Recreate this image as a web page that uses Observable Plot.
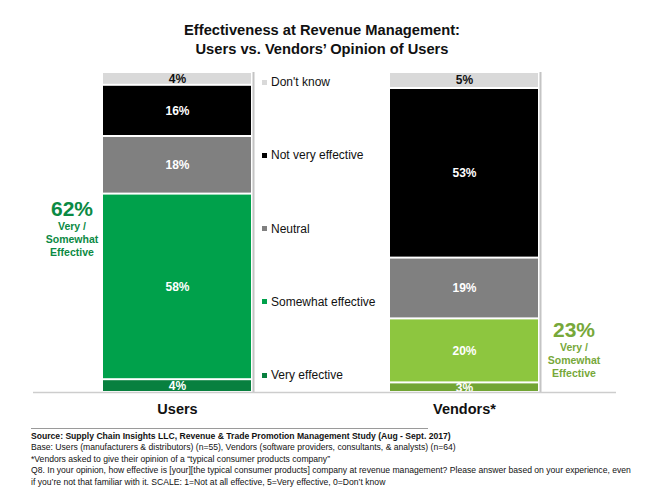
<!DOCTYPE html>
<html>
<head>
<meta charset="utf-8">
<script src="https://cdn.jsdelivr.net/npm/d3@7"></script>
<script src="https://cdn.jsdelivr.net/npm/@observablehq/plot@0.6"></script>
<style>
  html, body { margin: 0; padding: 0; background: #fff; }
  #wrap { position: relative; width: 650px; height: 488px; font-family: "Liberation Sans", Arial, sans-serif; overflow: hidden; }
  #title { position: absolute; left: 0; width: 644px; top: 21px; text-align: center; font-weight: bold; font-size: 14.7px; line-height: 19px; color: #111; }
  #chart { position: absolute; left: 0; top: 60px; }
  #legend { position: absolute; left: 262px; top: 75px; height: 307px; display: flex; flex-direction: column; justify-content: space-between; font-size: 12px; color: #111; }
  #legend .item { display: flex; align-items: center; }
  #legend .sw { width: 5px; height: 5px; margin-right: 4px; }
  .annot { position: absolute; text-align: center; font-weight: bold; }
  .annot .big { font-size: 21px; line-height: 22px; }
  .annot .small { font-size: 10.5px; line-height: 13px; }
  #caption { position: absolute; left: 31px; top: 428px; width: 610px; font-size: 8.6px; line-height: 11.4px; color: #111; }
  #caption .rule { width: 397px; border-top: 1.5px solid #9a9a9a; margin-bottom: 2px; }
</style>
</head>
<body>
<div id="wrap">
  <div id="title">Effectiveness at Revenue Management:<br>Users vs. Vendors’ Opinion of Users</div>
  <div id="chart"></div>
  <div id="legend"></div>
  <div class="annot" id="a1" style="left:32px; top:198px; width:80px; color:#0b8a44;"></div>
  <div class="annot" id="a2" style="left:534px; top:319px; width:80px; color:#77a83a;"></div>
  <div id="caption"></div>
</div>
<script>
// ---- data ----
const groups = ["Users", "Vendors*"];
const categories = ["Very effective", "Somewhat effective", "Neutral", "Not very effective", "Don't know"];
const usersValues = [4, 58, 18, 16, 4];
const vendorsValues = [3, 20, 19, 53, 5];
// ---- styles ----
const usersColors = ["#08803f", "#00a14b", "#808080", "#000000", "#d9d9d9"];
const vendorsColors = ["#72a534", "#8dc63f", "#808080", "#000000", "#d9d9d9"];
const legendColors = ["#d9d9d9", "#000000", "#808080", "#00a14b", "#08803f"];
const effectiveLabel = ["Very /", "Somewhat", "Effective"];
const titleLines = ["Effectiveness at Revenue Management:", "Users vs. Vendors’ Opinion of Users"];
const captionLines = [
  "Source:  Supply Chain Insights LLC, Revenue & Trade Promotion Management Study (Aug - Sept. 2017)",
  "Base: Users (manufacturers & distributors) (n=55), Vendors (software providers, consultants, & analysts) (n=64)",
  "*Vendors asked to give their opinion of a “typical consumer products company”",
  "Q8. In your opinion, how effective is [your][the typical consumer products] company at revenue management? Please answer based on your experience, even",
  "if you’re not that familiar with it. SCALE: 1=Not at all effective, 5=Very effective, 0=Don’t know"
];

const data = [];
categories.forEach((c, i) => {
  data.push({group: groups[0], category: c, value: usersValues[i], color: usersColors[i]});
  data.push({group: groups[1], category: c, value: vendorsValues[i], color: vendorsColors[i]});
});

const chart = Plot.plot({
  width: 650,
  height: 362,
  marginLeft: 33,
  marginRight: 34,
  marginTop: 12,
  marginBottom: 30,
  style: {fontFamily: "Liberation Sans, Arial, sans-serif", background: "transparent"},
  x: {type: "band", domain: groups, range: [103, 539], paddingInner: 0.484, paddingOuter: 0, label: null},
  y: {domain: [0, 100], axis: null},
  color: {type: "identity"},
  marks: [
    Plot.ruleX(groups, {x: d => d, dx: 76, y1: 0, y2: 100, stroke: "#c4c4c4", strokeWidth: 2}),
    Plot.barY(data, {x: "group", y: "value", z: "category", order: categories, fill: "color", insetTop: 1, insetBottom: 1}),
    Plot.text(data, Plot.stackY({
      x: "group", y: "value", z: "category", order: categories,
      text: d => d.value + "%",
      fill: d => d.category === "Don't know" ? "#111111" : "#ffffff",
      fontWeight: "bold", fontSize: 12
    })),
    Plot.ruleY([0], {stroke: "#cdcdcd", strokeWidth: 1.5}),
    Plot.axisX({tickSize: 0, tickPadding: 11, fontSize: 14.5, fontWeight: "bold", fill: "#111", label: null})
  ]
});
document.getElementById("chart").appendChild(chart);

// title
document.getElementById("title").innerHTML = titleLines.join("<br>");

// legend (top to bottom)
const legend = document.getElementById("legend");
[...categories].reverse().forEach((c, i) => {
  const item = document.createElement("div");
  item.className = "item";
  item.innerHTML = `<span class="sw" style="background:${legendColors[i]}"></span><span>${c}</span>`;
  legend.appendChild(item);
});

// annotations: combined effective share
function annot(id, vals) {
  const total = vals[0] + vals[1];
  document.getElementById(id).innerHTML =
    `<div class="big">${total}%</div>` + effectiveLabel.map(t => `<div class="small">${t}</div>`).join("");
}
annot("a1", usersValues);
annot("a2", vendorsValues);

// caption
const cap = document.getElementById("caption");
cap.innerHTML = `<div class="rule"></div>` + captionLines.map((t, i) =>
  `<div style="${i === 0 ? 'font-weight:bold' : ''}">${t.replace(/&/g, "&amp;")}</div>`).join("");
</script>
</body>
</html>
